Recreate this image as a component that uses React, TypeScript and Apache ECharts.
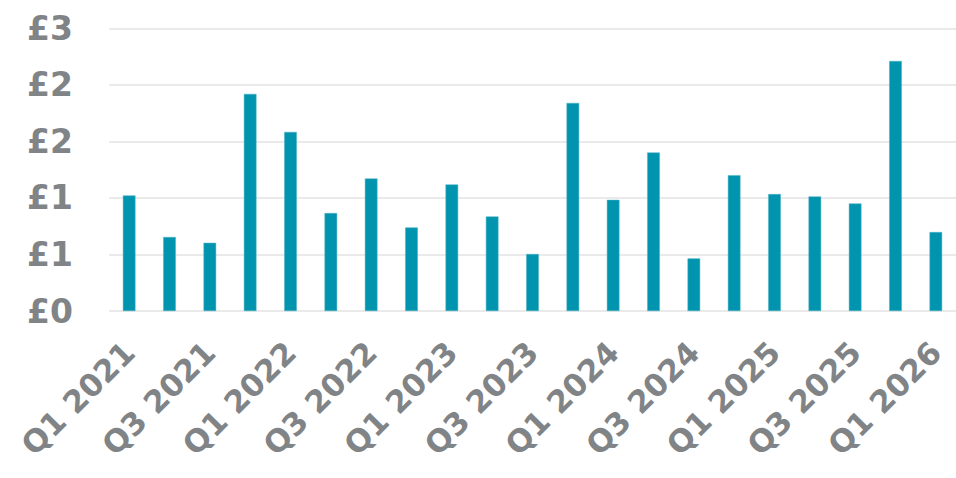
import React, { useEffect, useRef } from "react";
import * as echarts from "echarts";

const categories = [
  "Q1 2021", "Q2 2021", "Q3 2021", "Q4 2021",
  "Q1 2022", "Q2 2022", "Q3 2022", "Q4 2022",
  "Q1 2023", "Q2 2023", "Q3 2023", "Q4 2023",
  "Q1 2024", "Q2 2024", "Q3 2024", "Q4 2024",
  "Q1 2025", "Q2 2025", "Q3 2025", "Q4 2025",
  "Q1 2026",
];

const values = [
  1.022, 0.654, 0.603, 1.92,
  1.584, 0.866, 1.172, 0.739,
  1.119, 0.836, 0.504, 1.84,
  0.983, 1.402, 0.465, 1.201,
  1.034, 1.013, 0.951, 2.211,
  0.698,
];

const yMin = 0;
const yMax = 2.5;
const yInterval = 0.5;

export default function App() {
  const ref = useRef<HTMLDivElement>(null);
  useEffect(() => {
    document.body.style.margin = "0";
    const chart = echarts.init(ref.current!, null, { renderer: "svg" });
    const labelColor = "#818486";
    const font = "'DejaVu Sans', sans-serif";
    chart.setOption({
      animation: false,
      grid: { left: 109, top: 28.3, width: 851, bottom: 167, containLabel: false },
      xAxis: {
        type: "category",
        data: categories,
        axisLine: { show: false },
        axisTick: { show: false },
        axisLabel: {
          interval: 1,
          rotate: 45,
          color: labelColor,
          fontFamily: font,
          fontWeight: 700,
          fontSize: 31,
          margin: 36,
        },
      },
      yAxis: {
        type: "value",
        min: yMin,
        max: yMax,
        interval: yInterval,
        axisLine: { show: false },
        axisTick: { show: false },
        splitLine: { lineStyle: { color: "#e3e3e3", width: 1.5 } },
        axisLabel: {
          formatter: (v: number) => "£" + Math.round(v),
          color: labelColor,
          fontFamily: font,
          fontWeight: 700,
          fontSize: 33,
          margin: 36,
        },
      },
      series: [
        {
          type: "bar",
          data: values,
          barWidth: 12.6,
          itemStyle: { color: "#0094ae", borderColor: "#4fb3c4", borderWidth: 0.5 },
        },
      ],
    });
    return () => chart.dispose();
  }, []);
  return <div ref={ref} style={{ width: 956, height: 478 }} />;
}
